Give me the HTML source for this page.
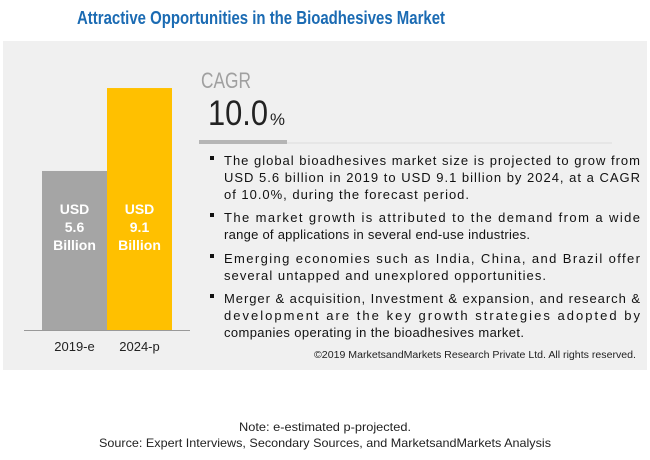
<!DOCTYPE html>
<html><head><meta charset="utf-8"><style>
body{margin:0;background:#fff;}
svg{display:block;font-family:"Liberation Sans",sans-serif;}
</style></head><body>
<svg width="650" height="460" viewBox="0 0 650 460">
<text x="261" y="24" text-anchor="middle" font-size="18" font-weight="bold" fill="#1b6bb3" textLength="368" lengthAdjust="spacingAndGlyphs">Attractive Opportunities in the Bioadhesives Market</text>
<rect x="3" y="41" width="644" height="329" fill="#f0f0f0"/>
<g id="bars"></g>
<line x1="24" y1="330.5" x2="190" y2="330.5" stroke="#999" stroke-width="1"/>
<text x="201" y="88" font-size="22" fill="#a0a0a0" textLength="50" lengthAdjust="spacingAndGlyphs">CAGR</text>
<g>
<text x="208" y="125" font-size="35" fill="#222" textLength="60" lengthAdjust="spacingAndGlyphs">10.0</text>
<text x="270" y="125" font-size="17" fill="#222" textLength="15" lengthAdjust="spacingAndGlyphs">%</text>
</g>
<rect x="199" y="140" width="88" height="4" fill="#b5b5b5"/>
<line x1="287" y1="143" x2="612" y2="143" stroke="#ddd" stroke-width="1"/>
<g font-size="13" fill="#111">
<rect x="210" y="156" width="4" height="4" fill="#111"/>
<text x="224" y="165" textLength="416" lengthAdjust="spacing">The global bioadhesives market size is projected to grow from</text>
<text x="224" y="182" textLength="416" lengthAdjust="spacing">USD 5.6 billion in 2019 to USD 9.1 billion by 2024, at a CAGR</text>
<text x="224" y="199" textLength="245" lengthAdjust="spacing">of 10.0%, during the forecast period.</text>
<rect x="210" y="213" width="4" height="4" fill="#111"/>
<text x="224" y="222" textLength="416" lengthAdjust="spacing">The market growth is attributed to the demand from a wide</text>
<text x="224" y="239" textLength="306" lengthAdjust="spacing">range of applications in several end-use industries.</text>
<rect x="210" y="254" width="4" height="4" fill="#111"/>
<text x="224" y="263" textLength="416" lengthAdjust="spacing">Emerging economies such as India, China, and Brazil offer</text>
<text x="224" y="280" textLength="322" lengthAdjust="spacing">several untapped and unexplored opportunities.</text>
<rect x="210" y="294" width="4" height="4" fill="#111"/>
<text x="224" y="303" textLength="416" lengthAdjust="spacing">Merger &amp; acquisition, Investment &amp; expansion, and research &amp;</text>
<text x="224" y="320" textLength="416" lengthAdjust="spacing">development are the key growth strategies adopted by</text>
<text x="224" y="337" textLength="300" lengthAdjust="spacing">companies operating in the bioadhesives market.</text>
</g>
<text x="636" y="358" text-anchor="end" font-size="10" fill="#222" textLength="322" lengthAdjust="spacingAndGlyphs">©2019 MarketsandMarkets Research Private Ltd. All rights reserved.</text>
<text x="325" y="431" text-anchor="middle" font-size="12" fill="#222" textLength="172" lengthAdjust="spacingAndGlyphs">Note: e-estimated p-projected.</text>
<text x="325" y="447" text-anchor="middle" font-size="12" fill="#222" textLength="452" lengthAdjust="spacingAndGlyphs">Source: Expert Interviews, Secondary Sources, and MarketsandMarkets Analysis</text>
</svg>
<script>
const categories = ["2019-e", "2024-p"];
const values = [5.6, 9.1];
const valueLabels = ["5.6", "9.1"];
const colors = ["#a5a5a5", "#ffc000"];
const base = 330, x0 = 42, bw = 65;
function yScale(v){ return base - (26.3 + 23.7 * v); }
const g = document.getElementById('bars');
const ns = "http://www.w3.org/2000/svg";
categories.forEach((c, i) => {
  const x = x0 + i * bw, y = yScale(values[i]);
  const r = document.createElementNS(ns, 'rect');
  r.setAttribute('x', x); r.setAttribute('y', y);
  r.setAttribute('width', bw); r.setAttribute('height', base - y);
  r.setAttribute('fill', colors[i]);
  
  
  g.appendChild(r);
  const lines = ["USD", valueLabels[i], "Billion"];
  lines.forEach((t, k) => {
    const tx = document.createElementNS(ns, 'text');
    tx.setAttribute('x', x + bw / 2); tx.setAttribute('y', 214 + k * 18);
    tx.setAttribute('text-anchor', 'middle'); tx.setAttribute('font-size', '14');
    tx.setAttribute('font-weight', 'bold'); tx.setAttribute('fill', '#fff');
    tx.textContent = t;
    
    
    g.appendChild(tx);
  });
  const lb = document.createElementNS(ns, 'text');
  lb.setAttribute('x', x + bw / 2); lb.setAttribute('y', 351);
  lb.setAttribute('text-anchor', 'middle'); lb.setAttribute('font-size', '13');
  lb.setAttribute('fill', '#222');
  lb.textContent = c;
  
  
  g.appendChild(lb);
});
</script>
</body></html>
